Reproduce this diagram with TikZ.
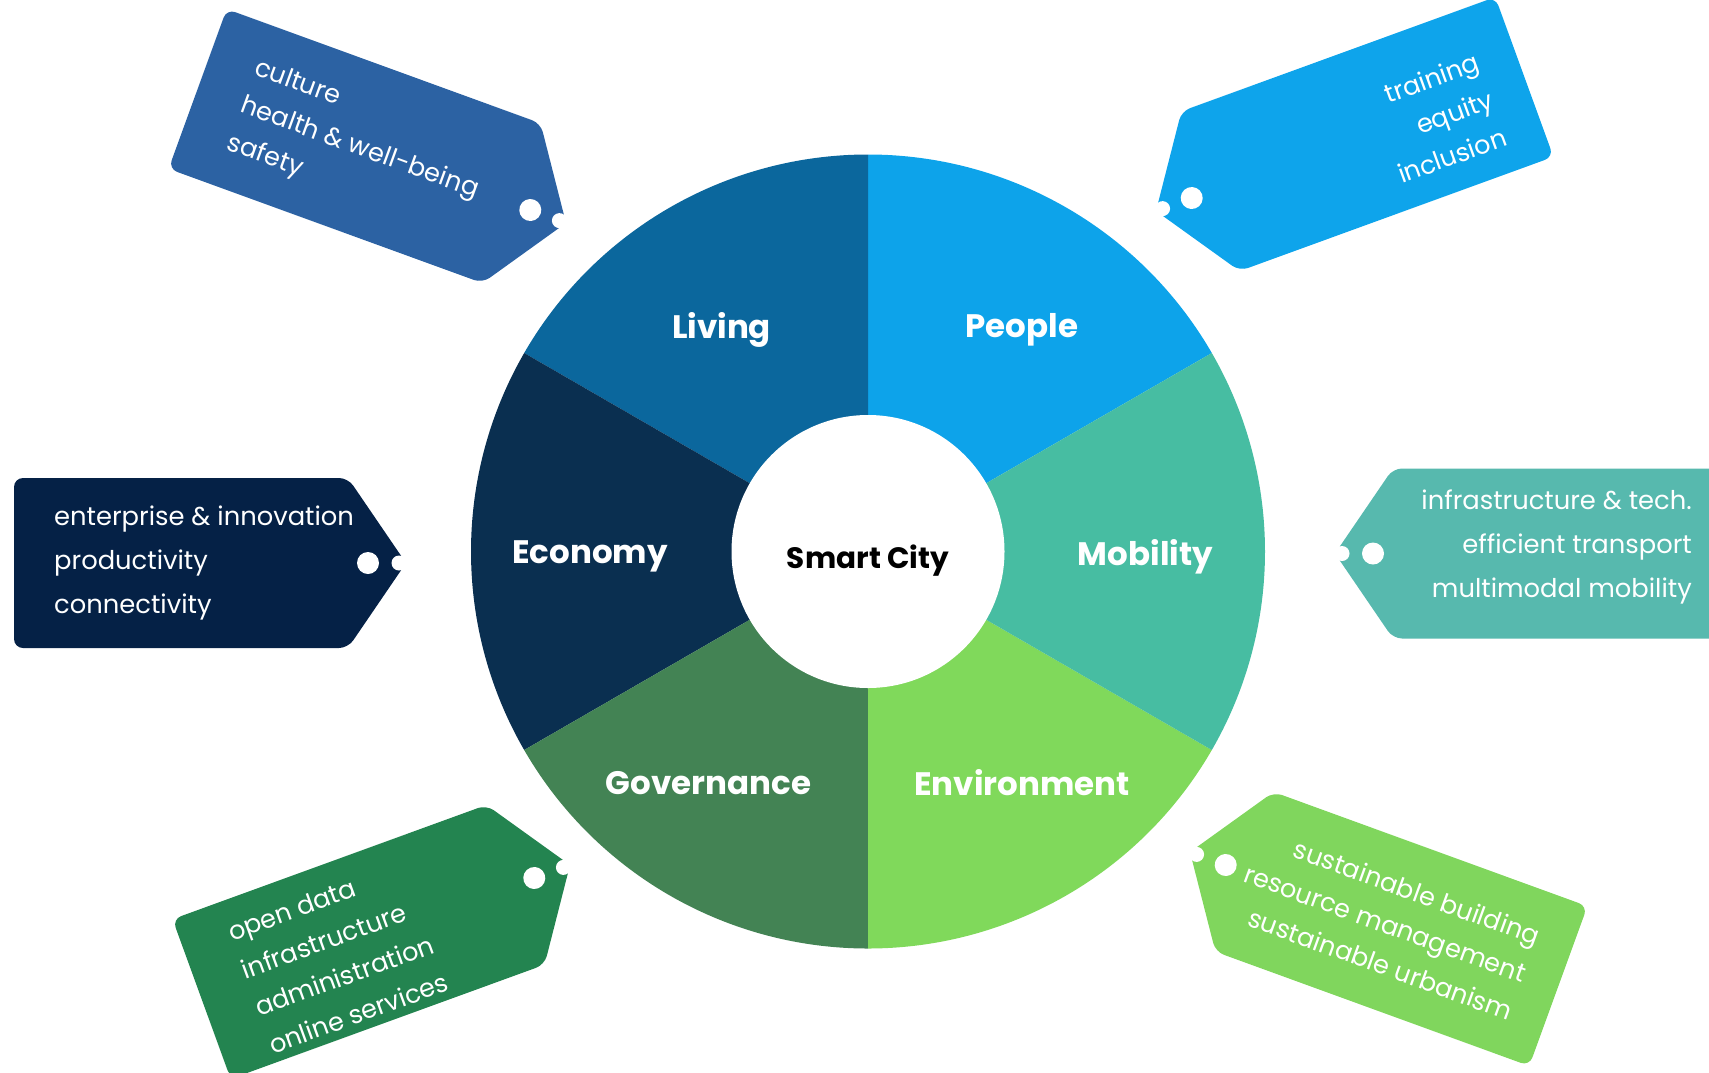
\documentclass[tikz,border=0pt]{standalone}
\usepackage{fontspec}
\setmainfont{Poppins}
\definecolor{sLiving}{HTML}{0B679D}
\definecolor{sPeople}{HTML}{0DA3EA}
\definecolor{sMobility}{HTML}{47BDA2}
\definecolor{sEnvironment}{HTML}{80D95B}
\definecolor{sGovernance}{HTML}{438354}
\definecolor{sEconomy}{HTML}{0A2F50}
\definecolor{tLiving}{HTML}{2C62A3}
\definecolor{tPeople}{HTML}{0EA4EB}
\definecolor{tEconomy}{HTML}{052146}
\definecolor{tMobility}{HTML}{57B9AE}
\definecolor{tGovernance}{HTML}{238450}
\definecolor{tEnvironment}{HTML}{80D65D}
\newcommand\tagshapeR[1]{%
  \fill[#1, rounded corners=9pt] (0,0) -- (-58,-85) -- (-392,-85) -- (-392,85) -- (-58,85) -- cycle;
  \fill[white] (-38,0) circle (11);
  \fill[white] (-7,0) circle (7.5);}
\newcommand\tagshapeL[1]{%
  \fill[#1, rounded corners=9pt] (0,0) -- (58,-85) -- (392,-85) -- (392,85) -- (58,85) -- cycle;
  \fill[white] (38,0) circle (11);
  \fill[white] (7,0) circle (7.5);}
\begin{document}
\begin{tikzpicture}[x=1pt,y=-1pt,
  tagtext/.style={text=white, inner sep=0pt, font=\fontsize{25.6}{40}\selectfont},
  tagtexth/.style={text=white, inner sep=0pt, font=\fontsize{25.8}{44}\selectfont},
  seclabel/.style={text=white, inner sep=0pt, font=\bfseries\fontsize{32.5}{38}\selectfont},
]
\useasboundingbox (0,0) rectangle (1709,1072);
% wheel
\coordinate (c) at (868,551.5);
\begin{scope}[shift={(c)}, yscale=-1]
  \fill[sPeople] (0,0) -- (30:397) arc[start angle=30, end angle=90, radius=397] -- cycle;
  \fill[sLiving] (0,0) -- (90:397) arc[start angle=90, end angle=150, radius=397] -- cycle;
  \fill[sEconomy] (0,0) -- (150:397) arc[start angle=150, end angle=210, radius=397] -- cycle;
  \fill[sGovernance] (0,0) -- (210:397) arc[start angle=210, end angle=270, radius=397] -- cycle;
  \fill[sEnvironment] (0,0) -- (270:397) arc[start angle=270, end angle=330, radius=397] -- cycle;
  \fill[sMobility] (0,0) -- (330:397) arc[start angle=330, end angle=390, radius=397] -- cycle;
\end{scope}
\node[circle, fill=white, minimum size=273pt, inner sep=0pt] (hub) at (c) {};
\node[inner sep=0pt, font=\bfseries\fontsize{29.5}{34}\selectfont] (center) at (868,561) {Smart City};
\node[seclabel] (living) at (721.5,329.5) {Living};
\node[seclabel] (people) at (1022,329.5) {People};
\node[seclabel] (economy) at (590,556.5) {Economy};
\node[seclabel] (mobility) at (1145.5,556.5) {Mobility};
\node[seclabel] (governance) at (708.5,783) {Governance};
\node[seclabel] (environment) at (1022,783) {Environment};
% tags
\begin{scope}[shift={(566,223)}, rotate=-20, transform shape]
  \tagshapeR{tLiving}
  \node[tagtext, anchor=west, align=left] (tliving) at (-345,1) {culture\\health \& well-being\\safety};
\end{scope}
\begin{scope}[shift={(406,563)}, transform shape]
  \tagshapeR{tEconomy}
  \node[tagtexth, anchor=west, align=left] (teconomy) at (-352,0) {enterprise \& innovation\\productivity\\connectivity};
\end{scope}
\begin{scope}[shift={(570,865)}, rotate=20, transform shape]
  \tagshapeR{tGovernance}
  \node[tagtext, anchor=west, align=left] (tgovernance) at (-344,7) {open data\\infrastructure\\administration\\online services};
\end{scope}
\begin{scope}[shift={(1156,211)}, rotate=20, transform shape]
  \tagshapeL{tPeople}
  \node[tagtext, anchor=east, align=right] (tpeople) at (354,9) {training\\equity\\inclusion};
\end{scope}
\begin{scope}[shift={(1335,553.5)}, transform shape]
  \tagshapeL{tMobility}
  \node[tagtexth, anchor=east, align=right] (tmobility) at (357,-7) {infrastructure \& tech.\\efficient transport\\multimodal mobility};
\end{scope}
\begin{scope}[shift={(1190,852)}, rotate=-20, transform shape]
  \tagshapeL{tEnvironment}
  \node[tagtext, anchor=east, align=right] (tenvironment) at (357,0) {sustainable building\\resource management\\sustainable urbanism};
\end{scope}
\end{tikzpicture}
\end{document}
